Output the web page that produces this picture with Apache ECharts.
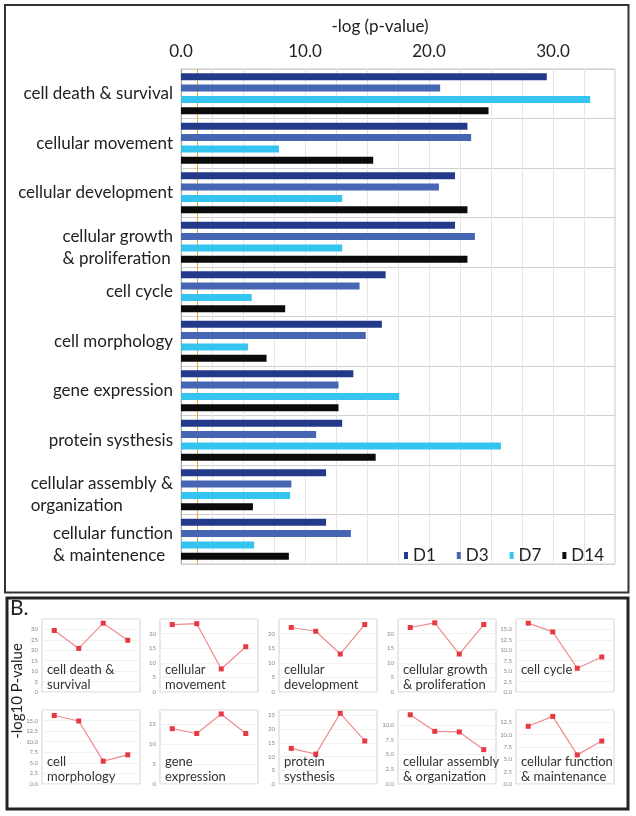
<!DOCTYPE html>
<html><head><meta charset="utf-8">
<script src="https://cdn.jsdelivr.net/npm/echarts@6/dist/echarts.min.js"></script>
<style>html,body{margin:0;padding:0;background:#fff}#c{width:636px;height:816px}</style>
</head><body><div id="c"></div>
<script>
// ---------- data ----------
const categories = ['cell death & survival','cellular movement','cellular development','cellular growth\n& proliferation','cell cycle','cell morphology','gene expression','protein systhesis','cellular assembly &\norganization','cellular function\n& maintenence'];
const seriesNames = ['D1','D3','D7','D14'];
const d1  = [29.5, 23.1, 22.1, 22.1, 16.5, 16.2, 13.9, 13.0, 11.7, 11.7];
const d3  = [20.9, 23.4, 20.8, 23.7, 14.4, 14.9, 12.7, 10.9,  8.9, 13.7];
const d7  = [33.0,  7.9, 13.0, 13.0,  5.7,  5.4, 17.6, 25.8,  8.8,  5.9];
const d14 = [24.8, 15.5, 23.1, 23.1,  8.4,  6.9, 12.7, 15.7,  5.8,  8.7];
const xTickLabels = ['0.0','10.0','20.0','30.0'];
const threshold = 1.3;
const smallTitles = ['cell death &\nsurvival','cellular\nmovement','cellular\ndevelopment','cellular growth\n& proliferation','cell cycle','cell\nmorphology','gene\nexpression','protein\nsysthesis','cellular assembly\n& organization','cellular function\n& maintenance'];
const smallMax = [35, 25, 25, 25, 17.5, 17.5, 18.6, 27, 12.5, 15];
const smallInterval = [5, 5, 5, 5, 2.5, 2.5, 5, 5, 2.5, 2.5];

// ---------- chart ----------
const FONT = 'Lato';
const colors = ['#233a8b', '#4665b2', '#35c3ef', '#0b0b0b'];
const barData = [d1, d3, d7, d14];

const chart = echarts.init(document.getElementById('c'), null, {renderer: 'canvas'});

const grids = [{left: 181, right: 21, top: 69, bottom: 252, show: true, borderColor: '#cccccc', borderWidth: 1}];
const xAxes = [{
  type: 'value', gridIndex: 0, position: 'top', min: 0, max: 35, interval: 2.5,
  axisLine: {show: false}, axisTick: {show: false},
  splitLine: {lineStyle: {color: '#e4e4e4', width: 1}},
  axisLabel: {
    margin: 9, fontSize: 17, color: '#222', fontFamily: FONT,
    formatter: v => (Math.abs(v % 10) < 1e-9 ? (xTickLabels[v / 10] || '') : '')
  }
}];
const yAxes = [{
  type: 'category', gridIndex: 0, inverse: true,
  data: categories.map(c => c.indexOf('\n') >= 0 ? {value: c, textStyle: {padding: [10, 0, 0, 0]}} : c),
  axisLine: {lineStyle: {color: '#aaaaaa'}}, axisTick: {show: false},
  splitLine: {show: true, lineStyle: {color: '#cfcfcf'}},
  axisLabel: {
    margin: 8, fontSize: 17, color: '#222', fontFamily: FONT,
    formatter: v => v.split('\n').map(s => '{l|' + s + '}').join('\n'),
    rich: {l: {align: 'left', fontSize: 17, lineHeight: 22, color: '#222', fontFamily: FONT}}
  }
}];
const series = seriesNames.map((name, k) => ({
  name, type: 'bar', xAxisIndex: 0, yAxisIndex: 0, data: barData[k], z: 3,
  barWidth: 7, barGap: '61%', itemStyle: {color: colors[k]}
}));
series.push({
  name: 'threshold', type: 'line', xAxisIndex: 0, yAxisIndex: 0, data: [], z: 1,
  markLine: {
    silent: true, symbol: 'none', animation: false, z: 1,
    lineStyle: {color: '#f0a830', width: 1, type: 'solid'},
    label: {show: false},
    data: [{xAxis: threshold}]
  }
});

const titles = [{
  text: '-log (p-value)', left: 380, top: 18, textAlign: 'center', padding: 0,
  textStyle: {fontSize: 17, fontWeight: 'normal', color: '#222', fontFamily: FONT}
}, {
  text: 'B.', left: 10, top: 598, padding: 0,
  textStyle: {fontSize: 21, fontWeight: 'normal', color: '#222', fontFamily: FONT}
}];

const smallLefts = [42, 160, 279, 398, 516];
const rowTops = [619, 710];
const rowHeights = [73, 74];
for (let i = 0; i < 10; i++) {
  const r = Math.floor(i / 5), c = i % 5;
  const gi = i + 1;
  const left = smallLefts[c], top = rowTops[r], h = rowHeights[r];
  grids.push({left, top, width: 98, height: h, show: true, borderColor: '#d2d2d2', borderWidth: 1});
  xAxes.push({
    type: 'category', gridIndex: gi, data: seriesNames,
    axisLine: {show: false}, axisTick: {show: false}, axisLabel: {show: false}, splitLine: {show: false}
  });
  const dec = smallInterval[i] % 1 !== 0 ? 1 : 0;
  yAxes.push({
    type: 'value', gridIndex: gi, min: 0, max: smallMax[i], interval: smallInterval[i],
    axisLine: {show: false}, axisTick: {show: false},
    splitLine: {lineStyle: {color: '#f1f1f1'}},
    axisLabel: {fontSize: 6, color: '#888', margin: 4, showMaxLabel: false, fontFamily: FONT,
      formatter: v => v.toFixed(dec)}
  });
  series.push({
    type: 'line', xAxisIndex: gi, yAxisIndex: gi,
    data: [d1[i], d3[i], d7[i], d14[i]],
    symbol: 'rect', symbolSize: 5, showSymbol: true,
    itemStyle: {color: '#e63a43'}, lineStyle: {color: '#f08b8e', width: 1.2},
    animation: false
  });
  titles.push({
    text: smallTitles[i], left: left + 5, top: top + h - 30, padding: 0,
    textStyle: {fontSize: 13, fontWeight: 'normal', color: '#333', lineHeight: 15, fontFamily: FONT}
  });
}

chart.setOption({
  animation: false,
  backgroundColor: '#ffffff',
  title: titles,
  legend: {
    data: seriesNames, left: 399, top: 542, itemGap: 21, itemWidth: 4, itemHeight: 7,
    icon: 'rect', textStyle: {fontSize: 17, color: '#222', fontFamily: FONT}, selectedMode: false
  },
  grid: grids, xAxis: xAxes, yAxis: yAxes, series,
  graphic: [
    {type: 'rect', shape: {x: 5, y: 5, width: 623.5, height: 587.5}, style: {fill: 'none', stroke: '#333', lineWidth: 2}, silent: true},
    {type: 'rect', shape: {x: 7, y: 598, width: 621, height: 211}, style: {fill: 'none', stroke: '#222', lineWidth: 3}, silent: true},
    {type: 'text', x: 17, y: 691, rotation: Math.PI / 2, style: {text: '-log10 P-value', fontSize: 15, fill: '#222', fontFamily: FONT, align: 'center', verticalAlign: 'middle'}, silent: true}
  ]
});
</script></body></html>
